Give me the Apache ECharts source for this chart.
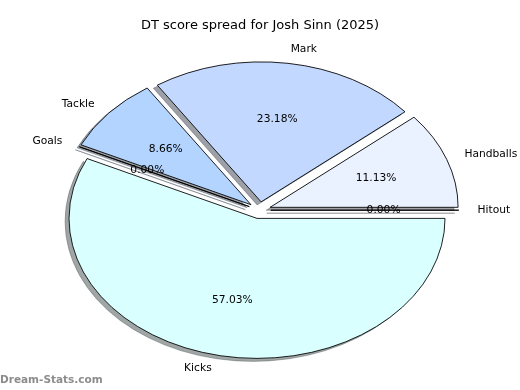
<!DOCTYPE html>
<html><head><meta charset="utf-8">
<script src="https://cdn.jsdelivr.net/npm/echarts@6/dist/echarts.min.js"></script>
<style>html,body{margin:0;padding:0;background:#fff}#c{width:520px;height:390px}</style>
</head><body><div id="c"></div>
<script>
// ---- data ----
const categories = ['Hitout', 'Handballs', 'Mark', 'Tackle', 'Goals', 'Kicks'];
const shares = [0, 11.13, 23.18, 8.66, 0, 57.03];
const sliceColors = ['#f2f6ff', '#eaf1ff', '#c3d8ff', '#b2d4ff', '#a6ccff', '#d9ffff'];
const explodeFrac = [0.06, 0.06, 0.06, 0.06, 0.06, 0.06];
const titleText = 'DT score spread for Josh Sinn (2025)';
const watermarkText = 'Dream-Stats.com';

// ---- layout ----
const CX = 259.5, CY = 210.2, RX = 188, RY = 140;
const LABEL_DIST = 1.1, PCT_DIST = 0.6;
const FONT = '"DejaVu Sans", sans-serif';
const total = shares.reduce((a, b) => a + b, 0);

function geom(i) {
  let start = 0;
  for (let j = 0; j < i; j++) start += shares[j];
  const t1 = start / total * Math.PI * 2;
  const t2 = (start + shares[i]) / total * Math.PI * 2;
  const tm = (t1 + t2) / 2;
  const e = explodeFrac[i];
  return {
    t1, t2, tm, e,
    ox: CX + e * RX * Math.cos(tm),
    oy: CY - e * RY * Math.sin(tm)
  };
}
function shadowColor(hex) {
  const r = parseInt(hex.slice(1, 3), 16), g = parseInt(hex.slice(3, 5), 16), b = parseInt(hex.slice(5, 7), 16);
  return 'rgb(' + Math.round(r * 0.3) + ',' + Math.round(g * 0.3) + ',' + Math.round(b * 0.3) + ')';
}
function sector(i, dx, dy, style) {
  const g = geom(i);
  return {
    type: 'sector',
    x: g.ox + dx, y: g.oy + dy,
    scaleX: 1, scaleY: RY / RX,
    shape: { cx: 0, cy: 0, r: RX, r0: 0, startAngle: -g.t2, endAngle: -g.t1, clockwise: true },
    style: style
  };
}
const seriesData = shares.map((v, i) => [i, v]);

const chart = echarts.init(document.getElementById('c'), null, { renderer: 'canvas' });
chart.setOption({
  animation: false,
  backgroundColor: '#ffffff',
  title: {
    text: titleText, left: 'center', top: 19, padding: 0,
    textStyle: { fontFamily: FONT, fontSize: 13, fontWeight: 'normal', color: '#000' }
  },
  graphic: [{
    type: 'text', left: 0, top: 375,
    style: { text: watermarkText, fill: '#8c8c8c', font: 'bold 10.5px ' + FONT }
  }],
  series: [
    {
      type: 'custom', coordinateSystem: 'none', z: 1, silent: true,
      data: seriesData,
      renderItem: function (params) {
        const i = params.dataIndex;
        return sector(i, -4, 3, { fill: shadowColor(sliceColors[i]), opacity: 0.5, stroke: shadowColor(sliceColors[i]), lineWidth: 0.8, strokeNoScale: true });
      }
    },
    {
      type: 'custom', coordinateSystem: 'none', z: 2, silent: true,
      data: seriesData,
      renderItem: function (params) {
        const i = params.dataIndex;
        return sector(i, 0, 0, { fill: sliceColors[i], stroke: '#000', lineWidth: 1, strokeNoScale: true });
      }
    },
    {
      type: 'custom', coordinateSystem: 'none', z: 3, silent: true,
      data: seriesData,
      renderItem: function (params) {
        const i = params.dataIndex;
        const g = geom(i);
        const c = Math.cos(g.tm), s = Math.sin(g.tm);
        const lx = CX + (g.e + LABEL_DIST) * RX * c;
        const ly = CY - (g.e + LABEL_DIST) * RY * s;
        const px = CX + (g.e + PCT_DIST) * RX * c;
        const py = CY - (g.e + PCT_DIST) * RY * s;
        return {
          type: 'group',
          children: [
            { type: 'text', x: lx, y: ly,
              style: { text: categories[i], fill: '#000', font: '10.7px ' + FONT,
                       align: c > 1e-9 ? 'left' : (c < -1e-9 ? 'right' : 'center'), verticalAlign: 'middle' } },
            { type: 'text', x: px, y: py,
              style: { text: shares[i].toFixed(2) + '%', fill: '#000', font: '10.7px ' + FONT,
                       align: 'center', verticalAlign: 'middle' } }
          ]
        };
      }
    }
  ]
});
</script>
</body></html>
